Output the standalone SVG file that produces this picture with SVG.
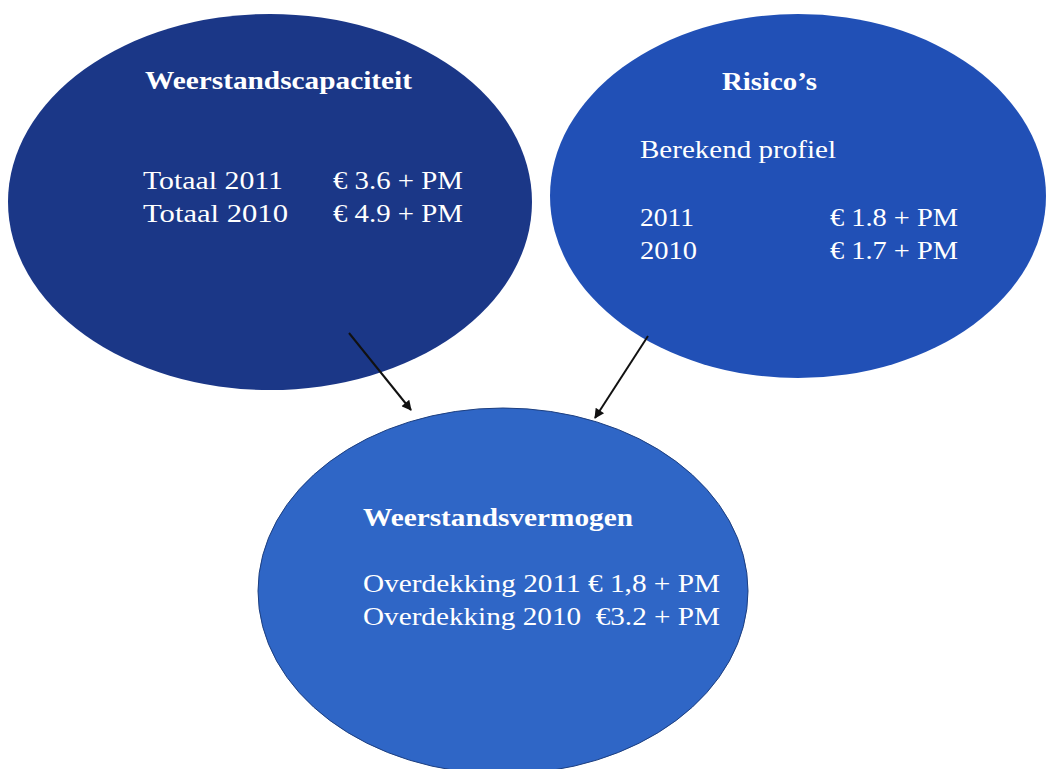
<svg xmlns="http://www.w3.org/2000/svg" width="1047" height="769" viewBox="0 0 1047 769">
<defs>
<style>
.t{font-family:"Liberation Serif","Times New Roman",serif;fill:#ffffff;font-size:26px;white-space:pre}
.b{font-weight:bold;font-size:25px}
.c{stroke:#111111;stroke-width:2;fill:none}
</style>
<marker id="ah" viewBox="0 0 10 10" refX="9" refY="5" markerWidth="12" markerHeight="10" orient="auto" markerUnits="userSpaceOnUse">
<path d="M0,0 L10,5 L0,10 z" fill="#111111"/>
</marker>
</defs>
<rect width="1047" height="769" fill="#ffffff"/>
<g id="node-weerstandsvermogen">
<ellipse cx="503" cy="591" rx="245" ry="183" fill="#2f66c6" stroke="#1d3f80" stroke-width="1"/>
<text class="t b" x="363" y="526" textLength="270" lengthAdjust="spacingAndGlyphs">Weerstandsvermogen</text>
<text class="t" x="363" y="592" textLength="357" lengthAdjust="spacingAndGlyphs">Overdekking 2011 € 1,8 + PM</text>
<text class="t" x="363" y="625" textLength="357" lengthAdjust="spacingAndGlyphs" xml:space="preserve">Overdekking 2010  €3.2 + PM</text>
</g>
<g id="node-weerstandscapaciteit">
<ellipse cx="270" cy="202" rx="262" ry="188" fill="#1b3787"/>
<text class="t b" x="145" y="89" textLength="267" lengthAdjust="spacingAndGlyphs">Weerstandscapaciteit</text>
<text class="t" x="143" y="189" textLength="140" lengthAdjust="spacingAndGlyphs">Totaal 2011</text>
<text class="t" x="333" y="189" textLength="130" lengthAdjust="spacingAndGlyphs">€ 3.6 + PM</text>
<text class="t" x="143" y="222" textLength="145" lengthAdjust="spacingAndGlyphs">Totaal 2010</text>
<text class="t" x="333" y="222" textLength="130" lengthAdjust="spacingAndGlyphs">€ 4.9 + PM</text>
</g>
<g id="node-risicos">
<ellipse cx="798" cy="196" rx="248" ry="182" fill="#2150b6"/>
<text class="t b" x="722" y="90" textLength="95" lengthAdjust="spacingAndGlyphs">Risico’s</text>
<text class="t" x="640" y="158" textLength="196" lengthAdjust="spacingAndGlyphs">Berekend profiel</text>
<text class="t" x="640" y="226" textLength="54" lengthAdjust="spacingAndGlyphs">2011</text>
<text class="t" x="830" y="226" textLength="128" lengthAdjust="spacingAndGlyphs">€ 1.8 + PM</text>
<text class="t" x="640" y="259" textLength="57" lengthAdjust="spacingAndGlyphs">2010</text>
<text class="t" x="830" y="259" textLength="128" lengthAdjust="spacingAndGlyphs">€ 1.7 + PM</text>
</g>
<g id="connectors">
<line class="c" x1="349" y1="333" x2="411" y2="410" marker-end="url(#ah)"/>
<line class="c" x1="648" y1="336" x2="595" y2="418" marker-end="url(#ah)"/>
</g>
</svg>
